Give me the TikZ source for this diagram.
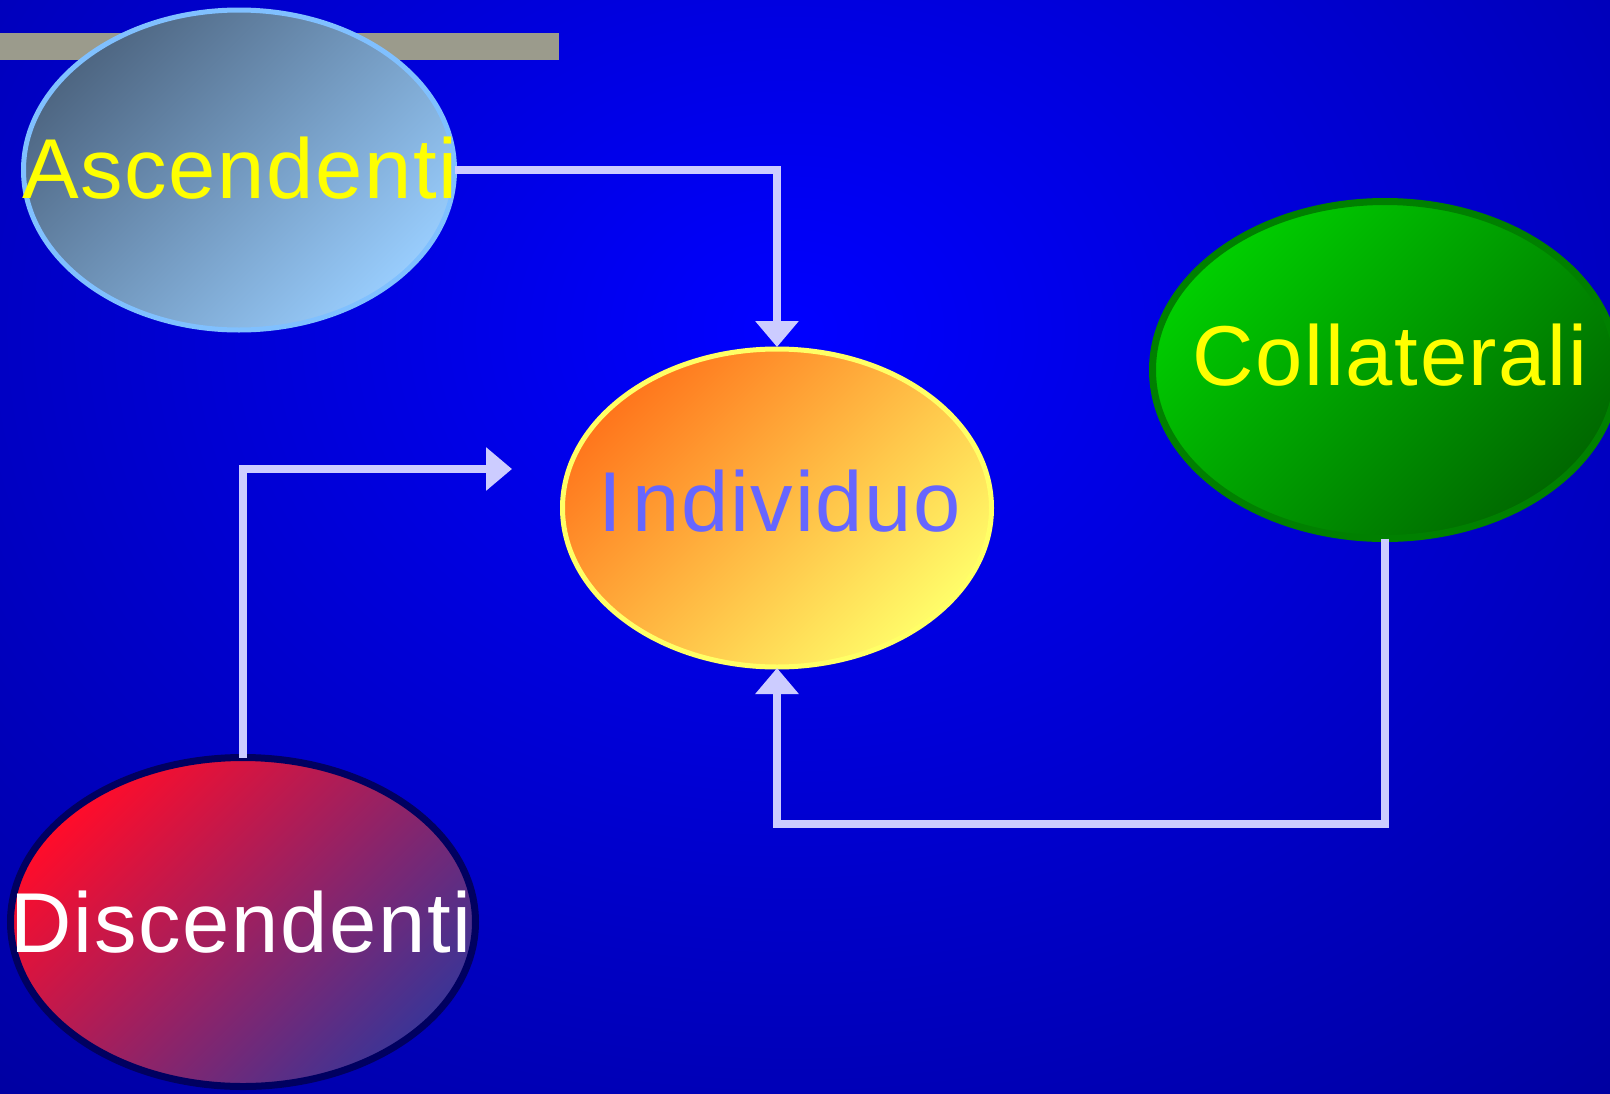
\documentclass[tikz,border=0pt]{standalone}
\usepackage{fontspec}
\setmainfont{Liberation Sans}[LetterSpace=2.0]
\usetikzlibrary{shapes.geometric,arrows.meta}
\definecolor{bgin}{RGB}{0,0,255}
\definecolor{bgout}{RGB}{0,0,128}
\definecolor{barcol}{RGB}{155,155,140}
\definecolor{conncol}{RGB}{204,204,255}
\definecolor{ascA}{RGB}{78,102,130}
\definecolor{ascB}{RGB}{152,204,252}
\definecolor{ascLine}{RGB}{128,192,255}
\definecolor{indA}{RGB}{255,118,28}
\definecolor{indB}{RGB}{255,252,105}
\definecolor{indLine}{RGB}{255,255,102}
\definecolor{indText}{RGB}{102,102,255}
\definecolor{colA}{RGB}{0,206,0}
\definecolor{colB}{RGB}{0,104,0}
\definecolor{colLine}{RGB}{0,128,0}
\definecolor{disA}{RGB}{255,12,42}
\definecolor{disB}{RGB}{60,52,150}
\definecolor{disLine}{RGB}{0,0,96}
\definecolor{yel}{RGB}{255,255,0}
\tikzset{
  blob/.style={ellipse, inner sep=0pt, outer sep=0pt},
  diag/.style={shading angle=45},
  txt/.style={anchor=base, inner sep=0pt, font=\fontsize{85}{90}\selectfont},
  conn/.style={draw=conncol, line width=8pt, line join=miter,
    -{Triangle[width=42pt,length=26pt]}},
}
\begin{document}
\begin{tikzpicture}[x=1pt,y=-1pt]
\useasboundingbox (0,0) rectangle (1610,1093);
% background
\fill[bgout] (0,0) rectangle (1610,1093);
\begin{scope}
  \clip (0,0) rectangle (1610,1093);
  \shade[inner color=bgin, outer color=bgout] (790,330) ellipse [x radius=1700, y radius=1350];
\end{scope}
% bar
\fill[barcol] (0,33) rectangle (559,60);
% ellipses
\node[blob, draw=ascLine, line width=5pt, top color=ascA, bottom color=ascB, diag,
  minimum width=431pt, minimum height=320pt] (asc) at (239,170) {};
\node[blob, draw=indLine, line width=5pt, top color=indA, bottom color=indB, diag,
  minimum width=429pt, minimum height=318pt] (ind) at (777,508) {};
\node[blob, draw=colLine, line width=7pt, top color=colA, bottom color=colB, diag,
  minimum width=465pt, minimum height=337pt] (col) at (1385,370) {};
\node[blob, draw=disLine, line width=7pt, top color=disA, bottom color=disB, diag,
  minimum width=465pt, minimum height=329pt] (dis) at (243,922) {};
% texts
\node[txt, text=yel] (ascT) at (240,198) {Ascendenti};
\node[txt, text=indText] (indT) at (780,531) {I\kern10pt ndividuo};
\node[txt, text=yel] (colT) at (1390,385) {Collaterali};
\node[txt, text=white] (disT) at (241,952) {Discendenti};
% connectors
\coordinate (c2) at (512,469);
\coordinate (c3) at (0,824);
\draw[conn, shorten >=2pt] (asc.east) -| (ind.north);
\draw[conn] (dis.north) |- (c2);
\draw[conn, shorten >=1pt] (col.south) -- (col.south |- c3) -| (ind.south);
\end{tikzpicture}
\end{document}
